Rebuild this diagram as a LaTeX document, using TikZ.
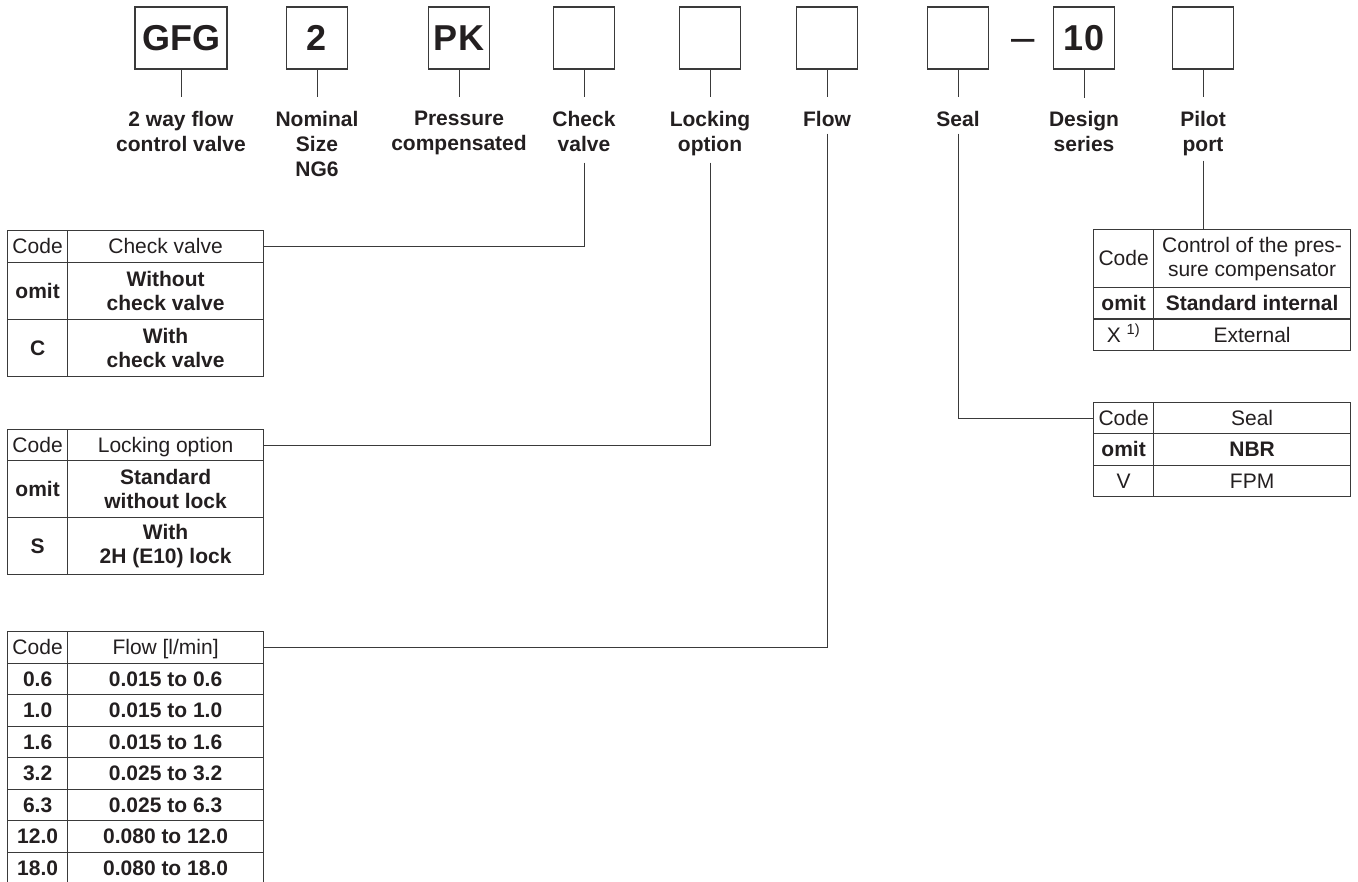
\documentclass[tikz,border=0pt]{standalone}
\usepackage{fontspec}
\setmainfont{Liberation Sans}
\definecolor{ink}{HTML}{231F20}
\definecolor{rule}{HTML}{3A3A3A}

\begin{document}
\begin{tikzpicture}[
x=1pt, y={(0pt,-1pt)},
every node/.style={text=ink},
keybox/.style={draw=rule, line width=1.3pt, minimum width=61pt, minimum height=62pt, inner sep=0pt, font=\fontsize{36}{40}\selectfont\bfseries},
lbl/.style={anchor=north, align=center, inner sep=0pt, font=\fontsize{21}{25}\selectfont\bfseries},
cell/.style={draw=rule, line width=1.2pt, anchor=north west, align=center, inner sep=0pt, text height=15pt, text depth=0.5pt, font=\fontsize{21}{24}\selectfont},
twolines/.style={text height=, text depth=},
boldtxt/.style={font=\fontsize{21}{24}\selectfont\bfseries},
codecell/.style={cell, minimum width=60pt},
desccell/.style={cell, minimum width=196pt},
conn/.style={draw=rule, line width=1pt},
]
\useasboundingbox (0,0) rectangle (1358,882);

%% ordering code
% boxes
\node[keybox, minimum width=92pt] (gfg) at (181,38) {GFG};
\node[keybox] (size) at (317,38) {2};
\node[keybox] (pk) at (459,38) {PK};
\node[keybox] (chk) at (584,38) {};
\node[keybox] (lock) at (710,38) {};
\node[keybox] (flow) at (827,38) {};
\node[keybox] (seal) at (958,38) {};
\node[font=\fontsize{42}{44}\selectfont] (dash) at (1023,45) {\textendash};
\node[keybox] (ser) at (1084,38) {10};
\node[keybox] (pil) at (1203,38) {};
% labels
\node[lbl] (lgfg) at (181,110.7) {2 way flow\\control valve};
\node[lbl] (lsize) at (317,110.7) {Nominal\\Size\\NG6};
\node[lbl] (lpk) at (459,110.7) {Pressure\\compensated};
\node[lbl] (lchk) at (584,110.7) {Check\\valve};
\node[lbl] (llock) at (710,110.7) {Locking\\option};
\node[lbl] (lflow) at (827,110.7) {Flow};
\node[lbl] (lseal) at (958,110.7) {Seal};
\node[lbl] (lser) at (1084,110.7) {Design\\series};
\node[lbl] (lpil) at (1203,110.7) {Pilot\\port};
% lines
\draw[conn] (gfg.south) -- ([yshift=14pt]lgfg.north);
\draw[conn] (size.south) -- ([yshift=14pt]lsize.north);
\draw[conn] (pk.south) -- ([yshift=14pt]lpk.north);
\draw[conn] (chk.south) -- ([yshift=14pt]lchk.north);
\draw[conn] (lock.south) -- ([yshift=14pt]llock.north);
\draw[conn] (flow.south) -- ([yshift=14pt]lflow.north);
\draw[conn] (seal.south) -- ([yshift=14pt]lseal.north);
\draw[conn] (ser.south) -- ([yshift=13pt]lser.north);
\draw[conn] (pil.south) -- ([yshift=14pt]lpil.north);

%% check valve
\node[codecell, minimum height=32pt] (chkC0) at (7,230) {Code};
\node[desccell, minimum height=32pt] (chkT0) at (67,230) {Check valve};
\node[codecell, boldtxt, minimum height=57pt] (chkC1) at (7,262) {omit};
\node[desccell, twolines, boldtxt, minimum height=57pt] (chkT1) at (67,262) {Without\\check valve};
\node[codecell, boldtxt, minimum height=57pt] (chkC2) at (7,319) {C};
\node[desccell, twolines, boldtxt, minimum height=57pt] (chkT2) at (67,319) {With\\check valve};

%% locking option
\node[codecell, minimum height=31pt] (lockC0) at (7,429) {Code};
\node[desccell, minimum height=31pt] (lockT0) at (67,429) {Locking option};
\node[codecell, boldtxt, minimum height=57pt] (lockC1) at (7,460) {omit};
\node[desccell, twolines, boldtxt, minimum height=57pt] (lockT1) at (67,460) {Standard\\without lock};
\node[codecell, boldtxt, minimum height=57pt] (lockC2) at (7,517) {S};
\node[desccell, twolines, boldtxt, minimum height=57pt] (lockT2) at (67,517) {With\\2H (E10) lock};

%% flow
\node[codecell, minimum height=31.5pt] (flowC0) at (7,631) {Code};
\node[desccell, minimum height=31.5pt] (flowT0) at (67,631) {Flow [l/min]};
\node[codecell, boldtxt, minimum height=31.5pt] (flowC1) at (7,662.5) {0.6};
\node[desccell, boldtxt, minimum height=31.5pt] (flowT1) at (67,662.5) {0.015 to 0.6};
\node[codecell, boldtxt, minimum height=31.5pt] (flowC2) at (7,694) {1.0};
\node[desccell, boldtxt, minimum height=31.5pt] (flowT2) at (67,694) {0.015 to 1.0};
\node[codecell, boldtxt, minimum height=31.5pt] (flowC3) at (7,725.5) {1.6};
\node[desccell, boldtxt, minimum height=31.5pt] (flowT3) at (67,725.5) {0.015 to 1.6};
\node[codecell, boldtxt, minimum height=31.5pt] (flowC4) at (7,757) {3.2};
\node[desccell, boldtxt, minimum height=31.5pt] (flowT4) at (67,757) {0.025 to 3.2};
\node[codecell, boldtxt, minimum height=31.5pt] (flowC5) at (7,788.5) {6.3};
\node[desccell, boldtxt, minimum height=31.5pt] (flowT5) at (67,788.5) {0.025 to 6.3};
\node[codecell, boldtxt, minimum height=31.5pt] (flowC6) at (7,820) {12.0};
\node[desccell, boldtxt, minimum height=31.5pt] (flowT6) at (67,820) {0.080 to 12.0};
\node[codecell, boldtxt, minimum height=31.5pt] (flowC7) at (7,851.5) {18.0};
\node[desccell, boldtxt, minimum height=31.5pt] (flowT7) at (67,851.5) {0.080 to 18.0};

%% pilot port
\node[codecell, minimum height=58pt] (pilC0) at (1093,229) {Code};
\node[desccell, twolines, minimum width=197pt, minimum height=58pt] (pilT0) at (1153,229) {Control of the pres-\\sure compensator};
\node[codecell, boldtxt, minimum height=31.5pt] (pilC1) at (1093,287) {omit};
\node[desccell, boldtxt, minimum width=197pt, minimum height=31.5pt] (pilT1) at (1153,287) {Standard internal};
\node[codecell, minimum height=31.5pt] (pilC2) at (1093,318.5) {X \textsuperscript{1)}};
\node[desccell, minimum width=197pt, minimum height=31.5pt] (pilT2) at (1153,318.5) {External};

%% seal
\node[codecell, minimum height=31.3pt] (sealC0) at (1093,402) {Code};
\node[desccell, minimum width=197pt, minimum height=31.3pt] (sealT0) at (1153,402) {Seal};
\node[codecell, boldtxt, minimum height=31.3pt] (sealC1) at (1093,433.3) {omit};
\node[desccell, boldtxt, minimum width=197pt, minimum height=31.3pt] (sealT1) at (1153,433.3) {NBR};
\node[codecell, minimum height=31.3pt] (sealC2) at (1093,464.6) {V};
\node[desccell, minimum width=197pt, minimum height=31.3pt] (sealT2) at (1153,464.6) {FPM};

%% lines to the tables
\draw[conn] ([yshift=-11pt]lchk.south) |- (chkT0.east);
\draw[conn] ([yshift=-7pt]llock.south) |- (lockT0.east);
\draw[conn] ([yshift=-7pt]lflow.south) |- (flowT0.east);
\draw[conn] ([yshift=-7pt]lseal.south) |- (sealC0.west);
\draw[conn] ([yshift=-5pt]lpil.south) -- (lpil.south |- pilT0.north);
\end{tikzpicture}
\end{document}
